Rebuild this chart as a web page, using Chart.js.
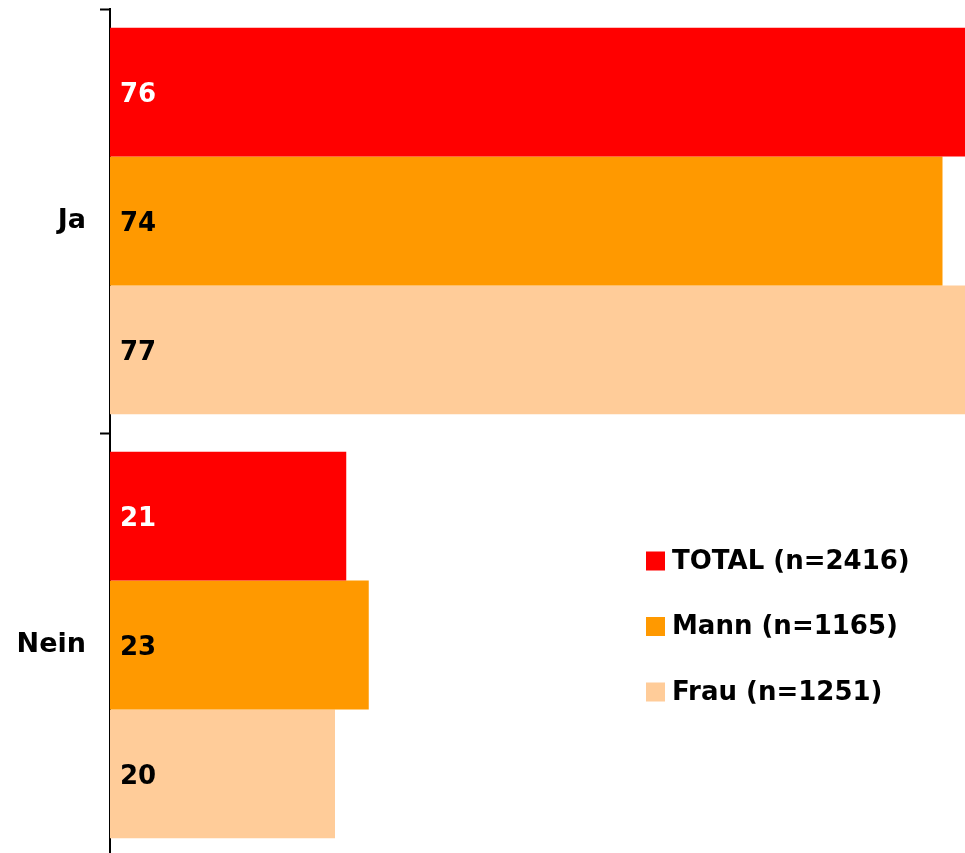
<!DOCTYPE html>
<html>
<head>
<meta charset="utf-8">
<script src="https://cdn.jsdelivr.net/npm/chart.js@4/dist/chart.umd.min.js"></script>
<style>
  html, body { margin: 0; padding: 0; background: #fff; overflow: hidden; }
  #wrap { width: 965px; height: 857px; position: relative; }
</style>
</head>
<body>
<div id="wrap"><canvas id="chart"></canvas></div>
<script>
const categories = ['Ja', 'Nein'];
const seriesLabels = ['TOTAL (n=2416)', 'Mann (n=1165)', 'Frau (n=1251)'];
const totalValues = [76, 21];
const mannValues = [74, 23];
const frauValues = [77, 20];
const seriesColors = ['#FF0000', '#FF9900', '#FFCC99'];
const labelColors = ['#FFFFFF', '#000000', '#000000'];

const FONT = 'Verdana, "DejaVu Sans", sans-serif';

// labels inside bars, at the left
const barLabels = {
  id: 'barLabels',
  afterDatasetsDraw(chart) {
    const ctx = chart.ctx;
    ctx.save();
    ctx.font = 'bold 26px ' + FONT;
    ctx.textBaseline = 'middle';
    ctx.textAlign = 'left';
    chart.data.datasets.forEach((ds, i) => {
      chart.getDatasetMeta(i).data.forEach((bar, j) => {
        ctx.fillStyle = labelColors[i];
        ctx.fillText(String(ds.data[j]), bar.base + 10, bar.y + 3);
      });
    });
    ctx.restore();
  }
};

// legend drawn by hand, stacked at the right
const sideLegend = {
  id: 'sideLegend',
  afterDraw(chart) {
    const ctx = chart.ctx;
    ctx.save();
    ctx.font = 'bold 26px ' + FONT;
    ctx.textBaseline = 'middle';
    ctx.textAlign = 'left';
    chart.data.datasets.forEach((ds, i) => {
      const y = 561 + i * 65.5;
      ctx.fillStyle = ds.backgroundColor;
      ctx.fillRect(646, y - 9.5, 19, 19);
      ctx.fillStyle = '#000';
      ctx.fillText(ds.label, 672, y + 1);
    });
    ctx.restore();
  }
};

new Chart(document.getElementById('chart'), {
  type: 'bar',
  data: {
    labels: categories,
    datasets: [
      { label: seriesLabels[0], data: totalValues, backgroundColor: seriesColors[0] },
      { label: seriesLabels[1], data: mannValues, backgroundColor: seriesColors[1] },
      { label: seriesLabels[2], data: frauValues, backgroundColor: seriesColors[2] }
    ]
  },
  options: {
    indexAxis: 'y',
    responsive: true,
    maintainAspectRatio: false,
    animation: false,
    categoryPercentage: 0.912,
    barPercentage: 1.0,
    layout: { padding: { top: 9, right: 0, bottom: 0, left: 0 } },
    plugins: { legend: { display: false }, tooltip: { enabled: false } },
    scales: {
      x: {
        min: 0,
        max: 76,
        display: false
      },
      y: {
        offset: true,
        afterFit(scale) {
          scale.width = 110;
          scale.paddingTop = 0;
          scale.paddingBottom = 0;
        },
        grid: {
          offset: true,
          drawOnChartArea: false,
          color: '#000',
          tickLength: 10,
          tickWidth: 2
        },
        border: { color: '#000', width: 2 },
        ticks: {
          color: '#000',
          padding: 14,
          font: { family: FONT, size: 27, weight: 'bold' }
        }
      }
    }
  },
  plugins: [barLabels, sideLegend]
});
</script>
</body>
</html>
